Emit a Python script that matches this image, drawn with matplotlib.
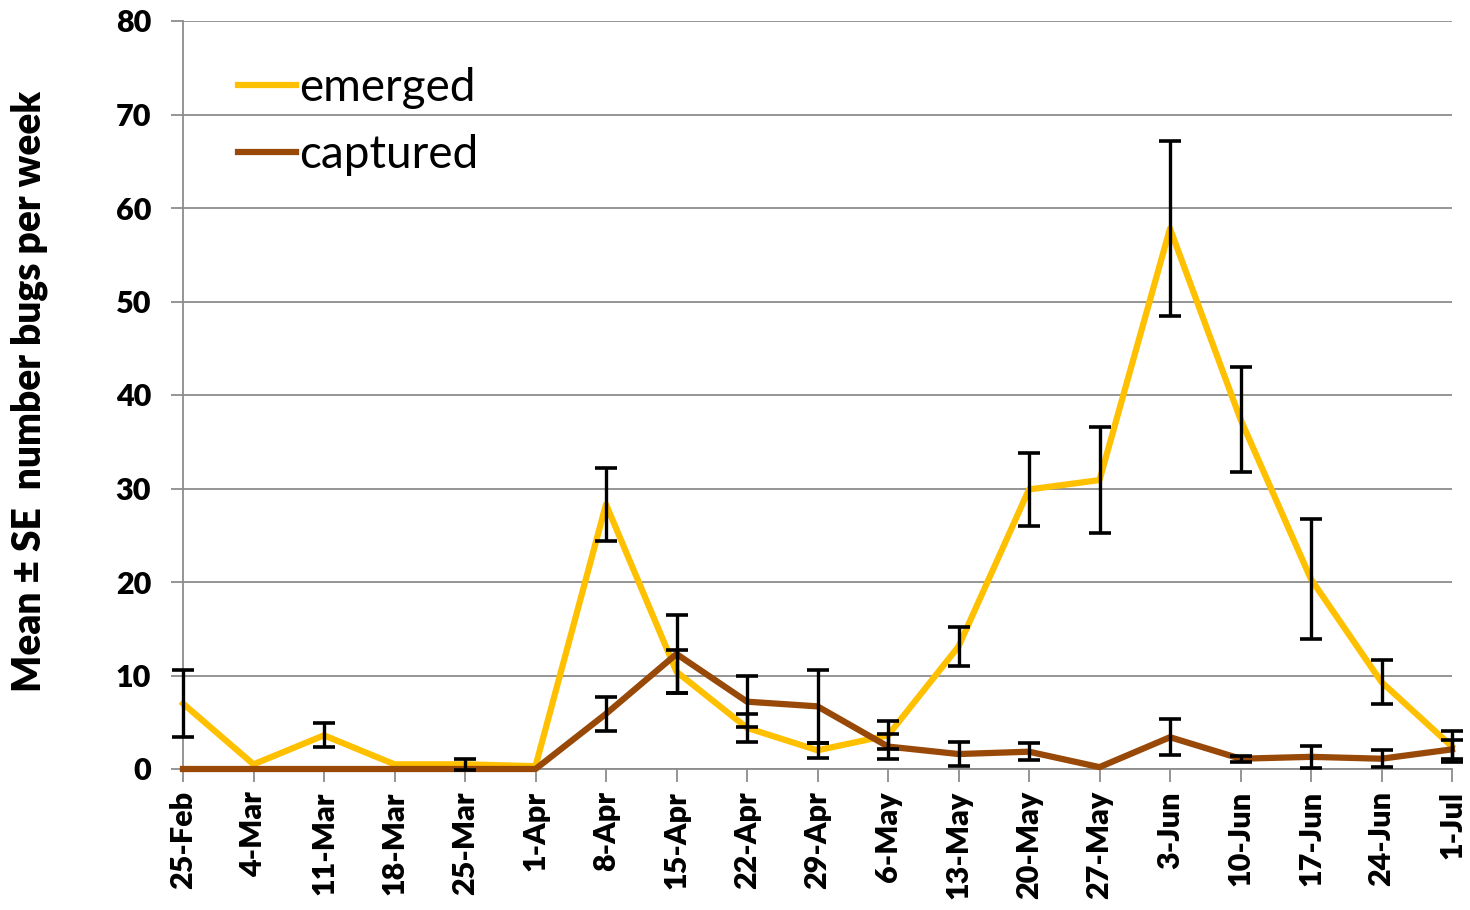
import matplotlib
matplotlib.use("Agg")
import matplotlib.pyplot as plt
import numpy as np

dates = ["25-Feb", "4-Mar", "11-Mar", "18-Mar", "25-Mar", "1-Apr", "8-Apr", "15-Apr",
         "22-Apr", "29-Apr", "6-May", "13-May", "20-May", "27-May", "3-Jun", "10-Jun",
         "17-Jun", "24-Jun", "1-Jul"]
emerged = [7.0, 0.5, 3.6, 0.5, 0.5, 0.3, 28.3, 10.4, 4.4, 2.0, 3.6, 13.1, 29.9, 30.9,
           57.8, 37.4, 20.3, 9.3, 2.4]
emerged_se = [3.6, 0.0, 1.3, 0.0, 0.6, 0.0, 3.9, 2.3, 1.5, 0.8, 1.5, 2.1, 3.9, 5.7,
              9.4, 5.6, 6.4, 2.4, 1.7]
captured = [0, 0, 0, 0, 0, 0, 5.9, 12.3, 7.2, 6.7, 2.4, 1.6, 1.85, 0.2, 3.4, 1.1, 1.3,
            1.1, 2.1]
captured_se = [0, 0, 0, 0, 0, 0, 1.8, 4.2, 2.7, 3.9, 1.3, 1.3, 0.9, 0.0, 1.9, 0.3, 1.2,
               0.9, 1.0]
y_ticks = [0, 10, 20, 30, 40, 50, 60, 70, 80]

plt.rcParams['font.family'] = ['Lato', 'DejaVu Sans']

W, H = 1470, 910
fig = plt.figure(figsize=(W / 100, H / 100), dpi=100)
left, right, top, bottom = 183, 1452, 21, 769
ax = fig.add_axes([left / W, 1 - bottom / H, (right - left) / W, (bottom - top) / H])

x = np.arange(len(dates))
c_em = "#FFC000"
c_cap = "#984807"

ax.plot(x, emerged, color=c_em, lw=4.5, zorder=3, label="emerged", clip_on=False)
ax.plot(x, captured, color=c_cap, lw=4.5, zorder=3, label="captured", clip_on=False)


def draw_err(vals, se):
    vals = np.asarray(vals, float)
    se = np.asarray(se, float)
    m = se > 0
    eb = ax.errorbar(x[m], vals[m], yerr=se[m], fmt='none', ecolor='black', elinewidth=2.4,
                     capsize=8, capthick=2.6, zorder=4)
    for art in eb.lines[1] + eb.lines[2]:
        art.set_clip_on(False)


draw_err(emerged, emerged_se)
draw_err(captured, captured_se)

ax.set_xlim(0, len(dates) - 1)
ax.set_ylim(0, 80)
ax.set_yticks(y_ticks)
ax.set_yticklabels([str(v) for v in y_ticks], fontsize=22, fontweight='heavy')
ax.set_xticks(x)
ax.set_xticklabels(dates, rotation=90, fontsize=22, fontweight='heavy')

ax.grid(axis='y', color='#8c8c8c', lw=1.3, zorder=0)
ax.set_axisbelow(True)
for s in ['top', 'right']:
    ax.spines[s].set_visible(False)
for s in ['left', 'bottom']:
    ax.spines[s].set_color('#8c8c8c')
    ax.spines[s].set_linewidth(1.3)
ax.tick_params(axis='both', color='#8c8c8c', width=1.3, length=9, direction='out')
ax.tick_params(axis='y', pad=14)
ax.tick_params(axis='x', pad=7)

ax.set_ylabel("Mean \u00b1 SE  number bugs per week", fontsize=28, fontweight='heavy')
ax.yaxis.set_label_coords((48 - left) / (right - left), (bottom - 392) / (bottom - top))

leg = ax.legend(loc='upper left', bbox_to_anchor=(197 / W, 1 - 26 / H),
                bbox_transform=fig.transFigure, frameon=False, fontsize=33,
                handlelength=1.27, handletextpad=0.05, labelspacing=0.54)

fig.savefig("out.png", dpi=100, facecolor='white')
